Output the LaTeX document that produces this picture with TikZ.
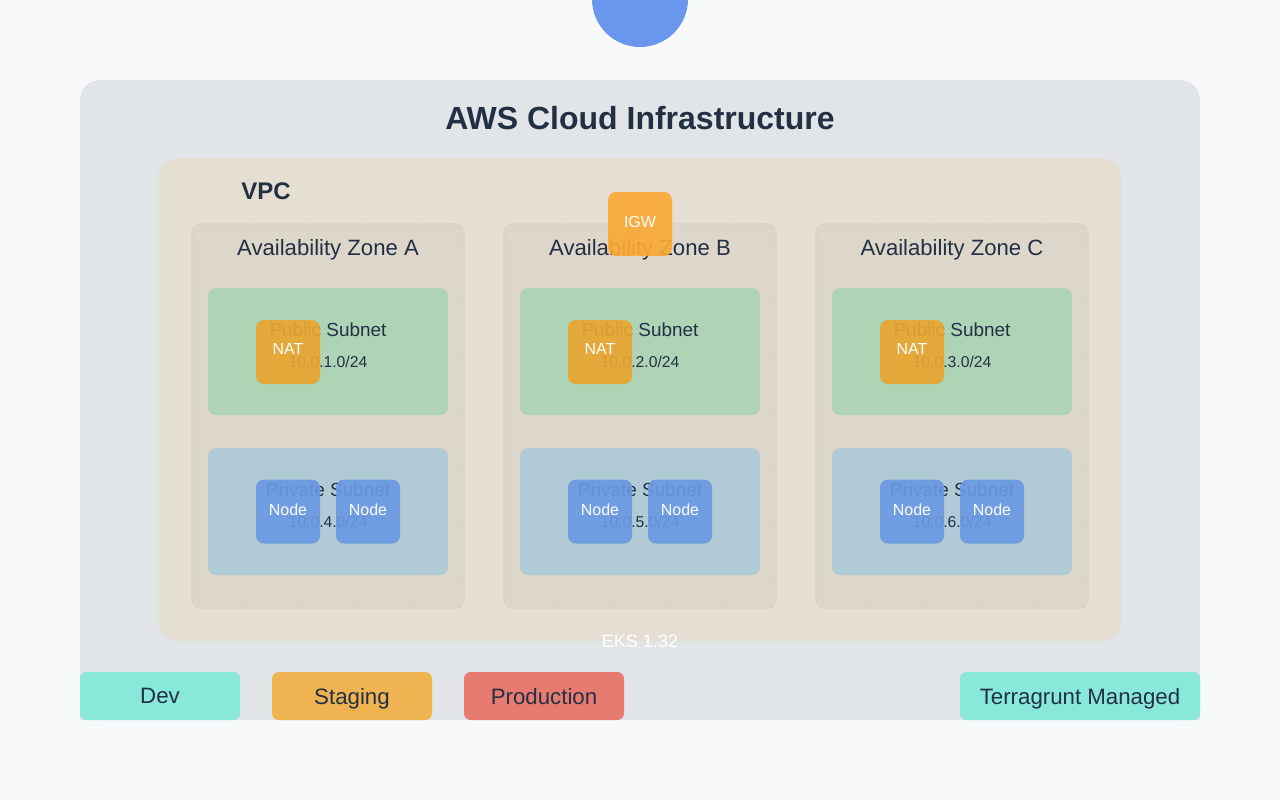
\documentclass[tikz,border=0pt]{standalone}
\usepackage{fontspec}
\setmainfont{Liberation Sans}
\definecolor{bgc}{HTML}{F7F9FB}
\definecolor{circc}{HTML}{6B96EE}
\definecolor{cloudc}{HTML}{E1E5E7}
\definecolor{vpcc}{HTML}{E5DED3}
\definecolor{azc}{HTML}{DDD6CA}
\definecolor{azb}{HTML}{D9D2C5}
\definecolor{pubc}{HTML}{AED3B5}
\definecolor{pric}{HTML}{B0CBD6}
\definecolor{natc}{HTML}{EAA531}
\definecolor{igwc}{HTML}{F9A935}
\definecolor{nodec}{HTML}{6B98E2}
\definecolor{txtc}{HTML}{233044}
\definecolor{tealc}{HTML}{88E9DB}
\definecolor{stagc}{HTML}{EFB352}
\definecolor{prodc}{HTML}{E77B6F}
\tikzset{
  lbl/.style={text=txtc, inner sep=0pt, anchor=center},
  smallbox/.style={minimum width=48pt, minimum height=48pt, rounded corners=6pt, inner sep=0pt},
  natbox/.style={smallbox, fill=natc, fill opacity=0.92},
  igwbox/.style={smallbox, fill=igwc, fill opacity=0.92},
  nodebox/.style={smallbox, fill=nodec, fill opacity=0.92},
  boxtxt/.style={inner sep=0pt, text=white, font=\fontsize{12}{14}\selectfont},
  badge/.style={minimum height=36pt, rounded corners=5pt, inner sep=0pt, text=txtc, text depth=0pt, font=\fontsize{16.7}{19}\selectfont}
}
\begin{document}
\begin{tikzpicture}[x=0.75pt,y=-0.75pt]
\useasboundingbox (0,0) rectangle (1280,800);
\fill[bgc] (0,0) rectangle (1280,800);
% top circle
\fill[circc] (640,-1) circle (36pt);
% cloud
\fill[cloudc, rounded corners=15pt] (80,80) rectangle (1200,720);
\fill[cloudc] (80,690) rectangle (1200,720);
\node[lbl, font=\bfseries\fontsize{24}{28}\selectfont] (title) at (640,118) {AWS Cloud Infrastructure};
% VPC
\fill[vpcc, rounded corners=15pt] (158,158) rectangle (1121,641);
\node[lbl, font=\bfseries\fontsize{18}{22}\selectfont] (vpc) at (266,191) {VPC};
% AZs
\foreach \i/\L/\pa/\pb in {0/A/1/4, 1/B/2/5, 2/C/3/6} {
  \pgfmathsetmacro\ox{312*\i}
  \filldraw[fill=azc, draw=azb, line width=1.5pt, dash pattern=on 5pt off 2pt, rounded corners=7pt]
    ({192+\ox},224) rectangle ({464+\ox},608);
  \node[lbl, font=\fontsize{16.6}{20}\selectfont] (az\L) at ({328+\ox},250) {Availability Zone \L};
  % public subnet
  \fill[pubc, rounded corners=6pt] ({208+\ox},288) rectangle ({448+\ox},415);
  \node[lbl, font=\fontsize{14.2}{17}\selectfont] (pub\L) at ({328+\ox},330) {Public Subnet};
  \node[lbl, font=\fontsize{11.8}{14}\selectfont] (pubcidr\L) at ({328+\ox},362) {10.0.\pa.0/24};
  \node[natbox] (nat\L) at ({288+\ox},352) {};
  \node[boxtxt] (natt\L) at ({288+\ox},349) {NAT};
  % private subnet
  \fill[pric, rounded corners=6pt] ({208+\ox},448) rectangle ({448+\ox},575);
  \node[lbl, font=\fontsize{14.2}{17}\selectfont] (pri\L) at ({328+\ox},490) {Private Subnet};
  \node[lbl, font=\fontsize{11.8}{14}\selectfont] (pricidr\L) at ({328+\ox},522) {10.0.\pb.0/24};
  \node[nodebox] (nodea\L) at ({288+\ox},511.5) {};
  \node[nodebox] (nodeb\L) at ({368+\ox},511.5) {};
  \node[boxtxt] (nodeat\L) at ({288+\ox},509.5) {Node};
  \node[boxtxt] (nodebt\L) at ({368+\ox},509.5) {Node};
}
% IGW
\node[igwbox] (igw) at (640,224) {};
\node[boxtxt] (igwt) at (640,221.5) {IGW};
% EKS label
\node[lbl, text=white, font=\fontsize{13.5}{16}\selectfont] (eks) at (640,641) {EKS 1.32};
% badges
\node[badge, fill=tealc, minimum width=120pt] (dev) at (160,696) {Dev};
\node[badge, fill=stagc, minimum width=120pt] (staging) at (352,696) {Staging};
\node[badge, fill=prodc, minimum width=120pt] (prod) at (544,696) {Production};
\node[badge, fill=tealc, minimum width=180pt] (tg) at (1080,696) {Terragrunt Managed};
\end{tikzpicture}
\end{document}
